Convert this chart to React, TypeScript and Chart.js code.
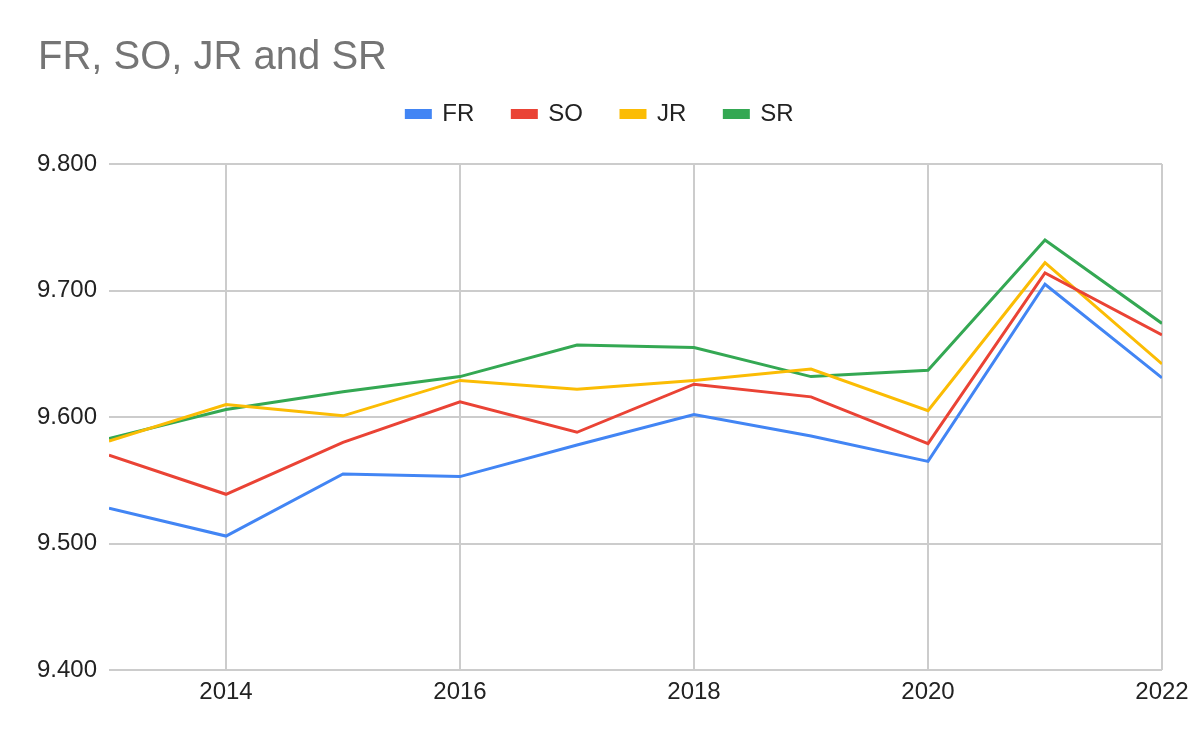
import { Chart, ChartConfiguration, Plugin, registerables } from "chart.js";
import { useEffect, useRef } from "react";

Chart.register(...registerables);

const years = [2013, 2014, 2015, 2016, 2017, 2018, 2019, 2020, 2021, 2022];
const tickYears = [2014, 2016, 2018, 2020, 2022];

const frValues = [9.528, 9.506, 9.555, 9.553, 9.578, 9.602, 9.585, 9.565, 9.705, 9.631];
const soValues = [9.57, 9.539, 9.58, 9.612, 9.588, 9.626, 9.616, 9.579, 9.714, 9.665];
const jrValues = [9.581, 9.61, 9.601, 9.629, 9.622, 9.629, 9.638, 9.605, 9.722, 9.642];
const srValues = [9.583, 9.606, 9.62, 9.632, 9.657, 9.655, 9.632, 9.637, 9.74, 9.674];

const FONT = "'Liberation Sans', Arial, sans-serif";

// extra room under the legend, the legend plugin has no margin option
const legendGap: Plugin<"line"> = {
  id: "legendGap",
  beforeInit(chart) {
    const legend = chart.legend as any;
    if (!legend) return;
    const fit = legend.fit;
    legend.fit = function () {
      fit.bind(legend)();
      this.height += 28;
    };
  },
};

function series(label: string, values: number[], color: string) {
  return {
    label,
    data: years.map((x, i) => ({ x, y: values[i] })),
    borderColor: color,
    backgroundColor: color,
    borderWidth: 3,
    pointRadius: 0,
    tension: 0,
  };
}

export default function App() {
  const chartRef = useRef<HTMLCanvasElement | null>(null);

  useEffect(() => {
    document.body.style.margin = "0";
    if (!chartRef.current) return;
    const ctx = chartRef.current.getContext("2d");
    if (!ctx) return;

    const config: ChartConfiguration<"line"> = {
      type: "line",
      data: {
        datasets: [
          series("FR", frValues, "#4285f4"),
          series("SO", soValues, "#ea4335"),
          series("JR", jrValues, "#fbbc04"),
          series("SR", srValues, "#34a853"),
        ],
      },
      options: {
        responsive: true,
        maintainAspectRatio: false,
        animation: false,
        layout: { padding: { left: 38, right: 38, top: 0, bottom: 27 } },
        scales: {
          x: {
            type: "linear",
            min: 2013,
            max: 2022,
            afterBuildTicks: (axis) => {
              axis.ticks = tickYears.map((value) => ({ value }));
            },
            grid: { color: "#cccccc", lineWidth: 2, drawTicks: false },
            border: { display: false },
            ticks: {
              callback: (value) => String(value),
              color: "#222222",
              font: { family: FONT, size: 24 },
              padding: 8,
              maxRotation: 0,
            },
          },
          y: {
            min: 9.4,
            max: 9.8,
            afterFit: (axis) => {
              axis.width = 71;
            },
            grid: { color: "#cccccc", lineWidth: 2, drawTicks: false },
            border: { display: false },
            ticks: {
              stepSize: 0.1,
              callback: (value) => Number(value).toFixed(3),
              color: "#222222",
              font: { family: FONT, size: 24 },
              padding: 12,
            },
          },
        },
        plugins: {
          title: {
            display: true,
            text: "FR, SO, JR and SR",
            align: "start",
            color: "#757575",
            font: { family: FONT, size: 40, weight: "normal" },
            padding: { top: 34, bottom: -18 },
          },
          legend: {
            display: true,
            position: "top",
            labels: {
              boxWidth: 24,
              boxHeight: 7,
              padding: 38,
              color: "#222222",
              font: { family: FONT, size: 24 },
            },
          },
          tooltip: { enabled: false },
        },
      },
      plugins: [legendGap],
    };

    const chart = new Chart(ctx, config);
    return () => {
      chart.destroy();
    };
  }, []);

  return (
    <div style={{ width: 1200, height: 742, position: "relative" }}>
      <canvas ref={chartRef} />
    </div>
  );
}
